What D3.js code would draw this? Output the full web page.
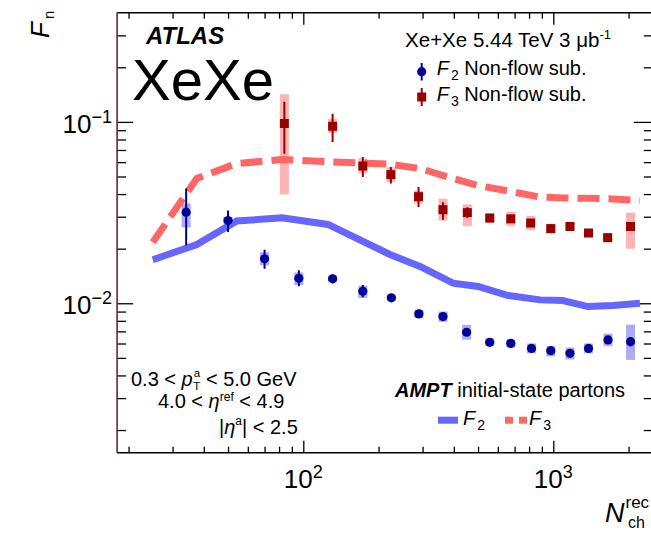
<!DOCTYPE html>
<html><head><meta charset="utf-8">
<script src="https://cdn.jsdelivr.net/npm/d3@7"></script>
<style>
html,body{margin:0;padding:0;background:#fff;}
svg{display:block;font-family:"Liberation Sans",Arial,Helvetica,sans-serif;}
</style></head><body>
<svg id="chart" width="651" height="533"></svg>
<script>
// Xe+Xe 5.44 TeV: non-flow subtracted F2 and F3 versus N_ch^rec, with AMPT initial-state curves

// Measured F2 (non-flow subtracted)
const nchF2    = [34, 50, 70, 96, 131, 173, 225, 290, 362, 450, 557, 676, 818, 977, 1166, 1383, 1655, 2037];
const f2Val    = [0.0318, 0.0286, 0.0176, 0.01374, 0.01364, 0.01165, 0.01071, 0.00874, 0.00845, 0.00692, 0.00609, 0.00601, 0.00564, 0.00548, 0.0053, 0.00564, 0.00628, 0.00614];
const f2StatLo = [0.0208, 0.0247, 0.0155, 0.0124, 0.0129, 0.0108, 0.0103, 0.0084, 0.0081, 0.0066, 0.0058, 0.0058, 0.0054, 0.0053, 0.0051, 0.0054, 0.0060, 0.0058];
const f2StatHi = [0.0429, 0.0325, 0.0197, 0.0152, 0.0144, 0.0126, 0.0112, 0.0091, 0.0088, 0.0072, 0.0064, 0.0062, 0.0059, 0.0057, 0.0055, 0.0059, 0.0066, 0.0065];
const f2SysLo  = [0.0262, 0.0274, 0.0162, 0.0126, 0.0131, 0.0107, 0.0103, 0.0083, 0.0079, 0.0063, 0.0058, 0.0057, 0.0053, 0.0051, 0.0049, 0.0053, 0.0058, 0.00487];
const f2SysHi  = [0.0355, 0.0299, 0.0191, 0.0148, 0.0142, 0.0125, 0.0111, 0.0092, 0.0090, 0.0076, 0.0064, 0.0063, 0.0060, 0.0058, 0.0057, 0.0060, 0.0068, 0.00762];

// Measured F3 (non-flow subtracted)
const nchF3    = [84, 131, 173, 224, 289, 362, 453, 557, 676, 812, 977, 1166, 1383, 1650, 2037];
const f3Val    = [0.098, 0.0946, 0.0571, 0.0512, 0.0387, 0.0328, 0.0316, 0.0295, 0.0292, 0.0277, 0.0258, 0.0265, 0.0244, 0.0230, 0.0265];
const f3StatLo = [0.0668, 0.0774, 0.0497, 0.0457, 0.0339, 0.0289, 0.0296, 0.0281, 0.0280, 0.0265, 0.0248, 0.0255, 0.0235, 0.0222, 0.0252];
const f3StatHi = [0.129, 0.111, 0.0641, 0.0564, 0.0438, 0.0361, 0.0338, 0.0309, 0.0304, 0.0290, 0.0268, 0.0275, 0.0253, 0.0238, 0.0278];
const f3SysLo  = [0.0398, 0.087, 0.0521, 0.0466, 0.0355, 0.0286, 0.0266, 0.0278, 0.0267, 0.0253, 0.0243, 0.0252, 0.0232, 0.0219, 0.0200];
const f3SysHi  = [0.142, 0.104, 0.0628, 0.0562, 0.0417, 0.0377, 0.0351, 0.0313, 0.0319, 0.0303, 0.0274, 0.0279, 0.0257, 0.0242, 0.0316];

// AMPT initial-state partons
const nchAmpt = [25.0, 37.5, 54.2, 82.2, 125.5, 222, 293, 397, 500, 660, 886, 1090, 1375, 1730, 2222];
const amptF2  = [0.01737, 0.0211, 0.0284, 0.0296, 0.0272, 0.01858, 0.01595, 0.0129, 0.01237, 0.01103, 0.01044, 0.01035, 0.00959, 0.00971, 0.0100];
const amptF3  = [0.0217, 0.0488, 0.0589, 0.062, 0.0603, 0.0584, 0.0553, 0.0488, 0.0446, 0.0416, 0.0385, 0.0381, 0.0379, 0.0376, 0.0369];

// Axis ticks
const xMajor = [100, 1000];
const xMinor = [20, 30, 40, 50, 60, 70, 80, 90, 200, 300, 400, 500, 600, 700, 800, 900, 2000];
const xLabels = [{v: 100, exp: "2"}, {v: 1000, exp: "3"}];
const yMajor = [0.01, 0.1];
const yMinor = [0.002, 0.003, 0.004, 0.005, 0.006, 0.007, 0.008, 0.009, 0.02, 0.03, 0.04, 0.05, 0.06, 0.07, 0.08, 0.09, 0.2, 0.3];
const yLabels = [{v: 0.01, exp: "\u22122"}, {v: 0.1, exp: "\u22121"}];

const col = {
  f2: "#000099", f3: "#990000",
  f2Sys: "#acacf6", f3Sys: "#ffb4b4",
  amptF2: "#6666ff", amptF3: "#ff6666"
};

const svg = d3.select("#chart");
const plot = {left: 117.1, top: 12.7, right: 652.8, bottom: 452.7};
const pw = plot.right - plot.left, ph = plot.bottom - plot.top;

const x = d3.scaleLog().domain([18, 2500]).range([0, pw]);
const y = d3.scaleLog().domain([0.0015, 0.4]).range([ph, 0]);

const g = svg.append("g").attr("transform", `translate(${plot.left},${plot.top})`);

svg.append("defs").append("clipPath").attr("id", "clip")
  .append("rect").attr("x", plot.left).attr("y", plot.top).attr("width", pw).attr("height", ph);

// inward ticks on all four sides
function ticks(axis, tx, ty, major, minor, lenMaj, lenMin) {
  [[major, lenMaj], [minor, lenMin]].forEach(([vals, len]) => {
    const a = g.append("g").attr("transform", `translate(${tx},${ty})`)
      .call(axis.tickValues(vals).tickSize(len).tickFormat(""));
    a.select(".domain").remove();
    a.selectAll("line").attr("stroke", "#000").attr("stroke-width", 1.3);
  });
}
ticks(d3.axisTop(x), 0, ph, xMajor, xMinor, 12, 6);
ticks(d3.axisBottom(x), 0, 0, xMajor, xMinor, 12, 6);
ticks(d3.axisRight(y), 0, 0, yMajor, yMinor, 16, 9);
ticks(d3.axisLeft(y), pw, 0, yMajor, yMinor, 19, 9);

// frame
g.append("line").attr("x1", 0).attr("x2", pw).attr("y1", 0).attr("y2", 0).attr("stroke", "#000").attr("stroke-width", 1.6);
g.append("line").attr("x1", 0).attr("x2", pw).attr("y1", ph).attr("y2", ph).attr("stroke", "#000").attr("stroke-width", 1.6);
g.append("line").attr("x1", 0).attr("x2", 0).attr("y1", 0).attr("y2", ph).attr("stroke", "#6b2a2a").attr("stroke-width", 1.6);

// tick labels
xLabels.forEach(d => {
  const t = svg.append("text").attr("x", plot.left + x(d.v)).attr("y", 488)
    .attr("text-anchor", "middle").attr("font-size", 26);
  t.append("tspan").text("10");
  t.append("tspan").attr("font-size", 18).attr("dy", -10).text(d.exp);
});
yLabels.forEach(d => {
  const t = svg.append("text").attr("x", 112).attr("y", plot.top + y(d.v) + 11)
    .attr("text-anchor", "end").attr("font-size", 26);
  t.append("tspan").text("10");
  t.append("tspan").attr("font-size", 18).attr("dy", -10).text(d.exp);
});

// axis titles
const xt = svg.append("text").attr("x", 605).attr("y", 522).attr("font-size", 27);
xt.append("tspan").attr("font-style", "italic").text("N");
xt.append("tspan").attr("font-size", 17).attr("dx", 1).attr("dy", -14).text("rec");
xt.append("tspan").attr("font-size", 16).attr("x", 628).attr("dy", 20).text("ch");

const yt = svg.append("text").attr("transform", "translate(49,38) rotate(-90)").attr("font-size", 26);
yt.append("tspan").attr("font-style", "italic").text("F");
yt.append("tspan").attr("font-size", 15).attr("dx", 3).attr("dy", 5).text("n");

const data = svg.append("g").attr("clip-path", "url(#clip)")
  .append("g").attr("transform", `translate(${plot.left},${plot.top})`);

// systematic boxes
const boxW = 9;
function sysBoxes(nch, lo, hi, fill) {
  data.append("g").selectAll("rect").data(nch).join("rect")
    .attr("x", d => x(d) - boxW / 2).attr("width", boxW)
    .attr("y", (d, i) => y(hi[i])).attr("height", (d, i) => y(lo[i]) - y(hi[i]))
    .attr("fill", fill);
}
sysBoxes(nchF3, f3SysLo, f3SysHi, col.f3Sys);
sysBoxes(nchF2, f2SysLo, f2SysHi, col.f2Sys);

// AMPT curves
const lineGen = vals => d3.line().x((d, i) => x(nchAmpt[i])).y((d, i) => y(vals[i]));
data.append("path").datum(amptF3).attr("d", lineGen(amptF3)).attr("fill", "none")
  .attr("stroke", col.amptF3).attr("stroke-width", 7).attr("stroke-dasharray", "22,9");
data.append("path").datum(amptF2).attr("d", lineGen(amptF2)).attr("fill", "none")
  .attr("stroke", col.amptF2).attr("stroke-width", 7);

// statistical error bars and markers
function statBars(nch, lo, hi, color) {
  data.append("g").selectAll("line").data(nch).join("line")
    .attr("x1", d => x(d)).attr("x2", d => x(d))
    .attr("y1", (d, i) => y(hi[i])).attr("y2", (d, i) => y(lo[i]))
    .attr("stroke", color).attr("stroke-width", 2);
}
statBars(nchF3, f3StatLo, f3StatHi, col.f3);
statBars(nchF2, f2StatLo, f2StatHi, col.f2);

data.append("g").selectAll("rect").data(nchF3).join("rect")
  .attr("x", d => x(d) - 4.5).attr("y", (d, i) => y(f3Val[i]) - 4.5)
  .attr("width", 9).attr("height", 9).attr("fill", col.f3);
data.append("g").selectAll("circle").data(nchF2).join("circle")
  .attr("cx", d => x(d)).attr("cy", (d, i) => y(f2Val[i])).attr("r", 4.6).attr("fill", col.f2);

// labels inside the frame
svg.append("text").attr("x", 146).attr("y", 43.5).attr("font-size", 24)
  .attr("font-weight", "bold").attr("font-style", "italic").text("ATLAS");
svg.append("text").attr("x", 132).attr("y", 100).attr("font-size", 58).text("XeXe");

const fs = 20;
const lt = svg.append("text").attr("x", 611).attr("y", 46.7).attr("text-anchor", "end").attr("font-size", 20.5);
lt.append("tspan").text("Xe+Xe 5.44 TeV 3 \u03BCb");
lt.append("tspan").attr("font-size", 13).attr("dy", -8).text("-1");

// legend: data
svg.append("line").attr("x1", 421.7).attr("x2", 421.7).attr("y1", 63).attr("y2", 80.5)
  .attr("stroke", col.f2).attr("stroke-width", 2);
svg.append("circle").attr("cx", 421.7).attr("cy", 71.7).attr("r", 4.6).attr("fill", col.f2);
svg.append("line").attr("x1", 421.7).attr("x2", 421.7).attr("y1", 88).attr("y2", 106)
  .attr("stroke", col.f3).attr("stroke-width", 2);
svg.append("rect").attr("x", 417.2).attr("y", 92.5).attr("width", 9).attr("height", 9).attr("fill", col.f3);

function legendText(xp, yp, sub, rest) {
  const t = svg.append("text").attr("x", xp).attr("y", yp).attr("font-size", fs);
  t.append("tspan").attr("font-style", "italic").text("F");
  t.append("tspan").attr("font-size", 14).attr("dx", 2).attr("dy", 5).text(sub);
  if (rest) t.append("tspan").attr("dy", -5).text(rest);
}
legendText(436.7, 75, "2", " Non-flow sub.");
legendText(436.7, 101, "3", " Non-flow sub.");

// legend: AMPT
const at = svg.append("text").attr("x", 395).attr("y", 396.7).attr("font-size", fs);
at.append("tspan").attr("font-weight", "bold").attr("font-style", "italic").text("AMPT");
at.append("tspan").text(" initial-state partons");
svg.append("rect").attr("x", 438).attr("y", 416.7).attr("width", 20).attr("height", 7).attr("fill", col.amptF2);
legendText(463, 425, "2", null);
svg.append("rect").attr("x", 505).attr("y", 416.7).attr("width", 8).attr("height", 7).attr("fill", col.amptF3);
svg.append("rect").attr("x", 519).attr("y", 416.7).attr("width", 8).attr("height", 7).attr("fill", col.amptF3);
legendText(529, 425, "3", null);

// kinematic selection
const k1 = svg.append("text").attr("x", 131).attr("y", 386).attr("font-size", fs);
k1.append("tspan").text("0.3 < ");
k1.append("tspan").attr("font-style", "italic").text("p");
k1.append("tspan").attr("font-size", 11.5).attr("dx", 1).attr("dy", -9).text("a");
k1.append("tspan").attr("font-size", 11.5).attr("dx", -6.8).attr("dy", 12.5).text("T");
k1.append("tspan").attr("dy", -3.5).text(" < 5.0 GeV");

const k2 = svg.append("text").attr("x", 158).attr("y", 408).attr("font-size", fs);
k2.append("tspan").text("4.0 < ");
k2.append("tspan").attr("font-style", "italic").text("\u03B7");
k2.append("tspan").attr("font-size", 12).attr("dy", -7).text("ref");
k2.append("tspan").attr("dy", 7).text(" < 4.9");

const k3 = svg.append("text").attr("x", 219).attr("y", 434).attr("font-size", fs);
k3.append("tspan").text("|");
k3.append("tspan").attr("font-style", "italic").text("\u03B7");
k3.append("tspan").attr("font-size", 12).attr("dy", -9).text("a");
k3.append("tspan").attr("dy", 9).text("| < 2.5");
</script>
</body></html>
